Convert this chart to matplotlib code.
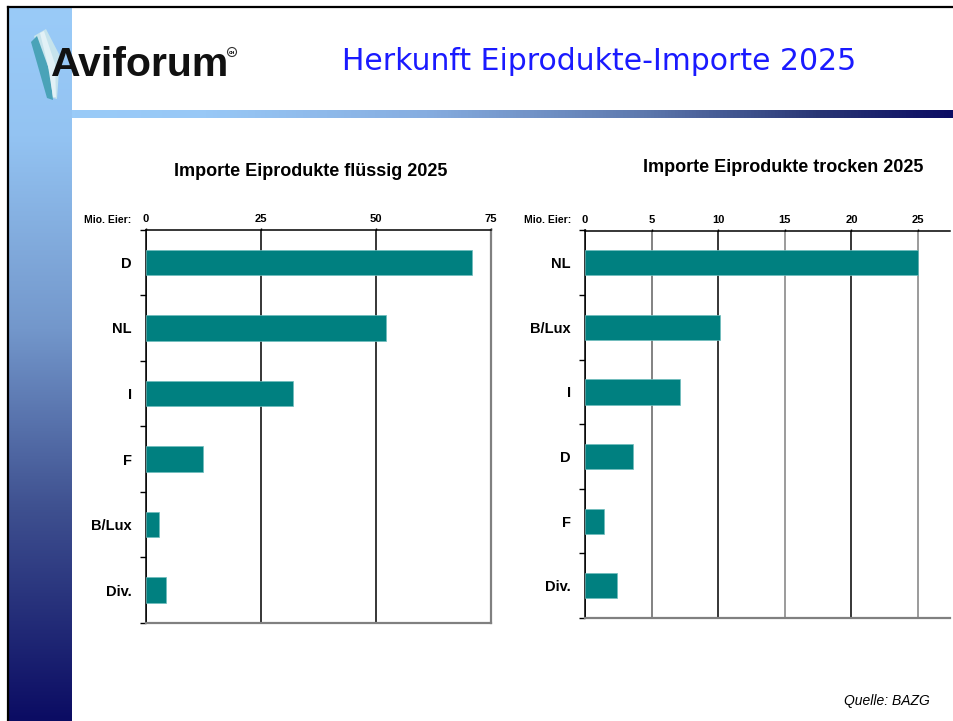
import numpy as np
import matplotlib.pyplot as plt
import matplotlib.patches as patches
from matplotlib.colors import LinearSegmentedColormap

W, H = 954, 721

# data
fluessig_labels = ['D', 'NL', 'I', 'F', 'B/Lux', 'Div.']
fluessig_values = [70.8, 52.2, 32.0, 12.3, 2.9, 4.3]
trocken_labels = ['NL', 'B/Lux', 'I', 'D', 'F', 'Div.']
trocken_values = [25.0, 10.1, 7.1, 3.6, 1.4, 2.4]
fluessig_ticks = [0, 25, 50, 75]
trocken_ticks = [0, 5, 10, 15, 20, 25]

BAR = '#008080'
FONT = 'Liberation Sans'


def rect(left, top, right, bottom):
    return [left / W, 1 - bottom / H, (right - left) / W, (bottom - top) / H]


fig = plt.figure(figsize=(W / 100, H / 100), dpi=100)
fig.patch.set_facecolor('white')

# background / slide decoration in pixel coordinates
bg = fig.add_axes([0, 0, 1, 1])
bg.set_xlim(0, W)
bg.set_ylim(H, 0)
bg.axis('off')

side_cmap = LinearSegmentedColormap.from_list(
    'side', [(0, '#9acbf8'), (0.18, '#93c3f2'), (0.45, '#7397cb'),
             (0.7, '#3f5190'), (1.0, '#0b0c63')])
bg.imshow(np.linspace(0, 1, 256)[:, None], cmap=side_cmap, aspect='auto',
          extent=(9, 72, H, 8), zorder=0)
bar_cmap = LinearSegmentedColormap.from_list(
    'bar', [(0, '#9acbf8'), (0.15, '#98c8f6'), (0.4, '#86ade0'),
            (0.65, '#5d78ad'), (0.85, '#283574'), (1.0, '#0b0c63')])
bg.imshow(np.linspace(0, 1, 256)[None, :], cmap=bar_cmap, aspect='auto',
          extent=(72, W, 118, 110), zorder=0)
bg.plot([8, 8], [H, 7], color='black', lw=1.6, zorder=3)
bg.plot([8, W], [7, 7], color='black', lw=1.6, zorder=3)

# logo feather
bg.add_patch(patches.Polygon([(34, 36), (46, 29), (60, 56), (57, 99), (50, 97), (44, 70)],
                             closed=True, facecolor='#c6e3ec', edgecolor='none', zorder=2))
bg.add_patch(patches.Polygon([(31, 42), (37, 36), (50, 72), (53, 100), (47, 98)],
                             closed=True, facecolor='#4aa3b8', edgecolor='none', zorder=2))
bg.add_patch(patches.Polygon([(40, 33), (44, 31), (55, 64), (56, 97), (53, 97), (48, 66)],
                             closed=True, facecolor='#e2f1f6', edgecolor='none', zorder=2))
bg.add_patch(patches.Rectangle((72, 8), 170, 72, facecolor='white', edgecolor='none', zorder=1))
bg.text(51, 76, 'Aviforum', fontsize=29.5, fontweight='bold', family=FONT,
        color='#111111', ha='left', va='baseline', zorder=4)
bg.add_patch(patches.Circle((232, 52), 4.5, facecolor='white', edgecolor='#333333', lw=0.8, zorder=4))
bg.text(232, 52.5, 'CH', fontsize=3, fontweight='bold', ha='center', va='center', zorder=5)

bg.text(599, 62, 'Herkunft Eiprodukte-Importe 2025', fontsize=21.5, color='#1a1aff',
        family='DejaVu Sans', ha='center', va='center')
bg.text(930, 701, 'Quelle: BAZG', fontsize=10, style='italic', family=FONT,
        ha='right', va='center')

bg.text(311, 171, 'Importe Eiprodukte flüssig 2025', fontsize=13, fontweight='bold',
        family=FONT, ha='center', va='center')
bg.text(783, 168, 'Importe Eiprodukte trocken 2025', fontsize=13, fontweight='bold',
        family=FONT, ha='center', va='center')
bg.text(131, 220, 'Mio. Eier:', fontsize=7.5, fontweight='bold', family=FONT,
        ha='right', va='center')
bg.text(571, 220, 'Mio. Eier:', fontsize=7.5, fontweight='bold', family=FONT,
        ha='right', va='center')


def bar_panel(box, labels, values, ticks, xmax, grid_colors, right_spine):
    ax = fig.add_axes(box)
    y = np.arange(len(labels))
    ax.barh(y, values, height=0.39, color=BAR, edgecolor='#6fbdbd', linewidth=0.5, zorder=3)
    ax.set_xlim(0, xmax)
    ax.set_ylim(len(labels) - 0.5, -0.5)

    ax.xaxis.tick_top()
    ax.set_xticks(ticks)
    ax.set_xticklabels([str(t) for t in ticks], fontsize=8, fontweight='bold', family=FONT)
    ax.tick_params(axis='x', length=1.5, width=1, pad=2.5, color='black')
    ax.grid(axis='x', linewidth=1.1, zorder=1)
    for line, c in zip(ax.xaxis.get_gridlines(), grid_colors):
        line.set_color(c)

    ax.set_yticks(np.arange(len(labels) + 1) - 0.5)
    ax.set_yticklabels([])
    ax.tick_params(axis='y', which='major', length=4, width=1, direction='out')
    ax.set_yticks(y, minor=True)
    ax.set_yticklabels(labels, minor=True, fontsize=10.5, fontweight='bold', family=FONT)
    ax.tick_params(axis='y', which='minor', length=0, pad=10)

    ax.spines['left'].set_linewidth(1.1)
    ax.spines['top'].set_linewidth(1.1)
    ax.spines['bottom'].set_color('#808080')
    ax.spines['bottom'].set_linewidth(1.6)
    if right_spine:
        ax.spines['right'].set_color('#808080')
        ax.spines['right'].set_linewidth(1.6)
    else:
        ax.spines['right'].set_visible(False)
    return ax


bar_panel(rect(146, 229.5, 491, 623), fluessig_labels, fluessig_values, fluessig_ticks, 75,
          ['black', 'black', 'black', '#808080'], True)
bar_panel(rect(585, 230.5, 950, 618), trocken_labels, trocken_values, trocken_ticks, 27.4,
          ['black', '#606060', 'black', '#808080', 'black', '#808080'], False)

fig.savefig('out.png', dpi=100)
